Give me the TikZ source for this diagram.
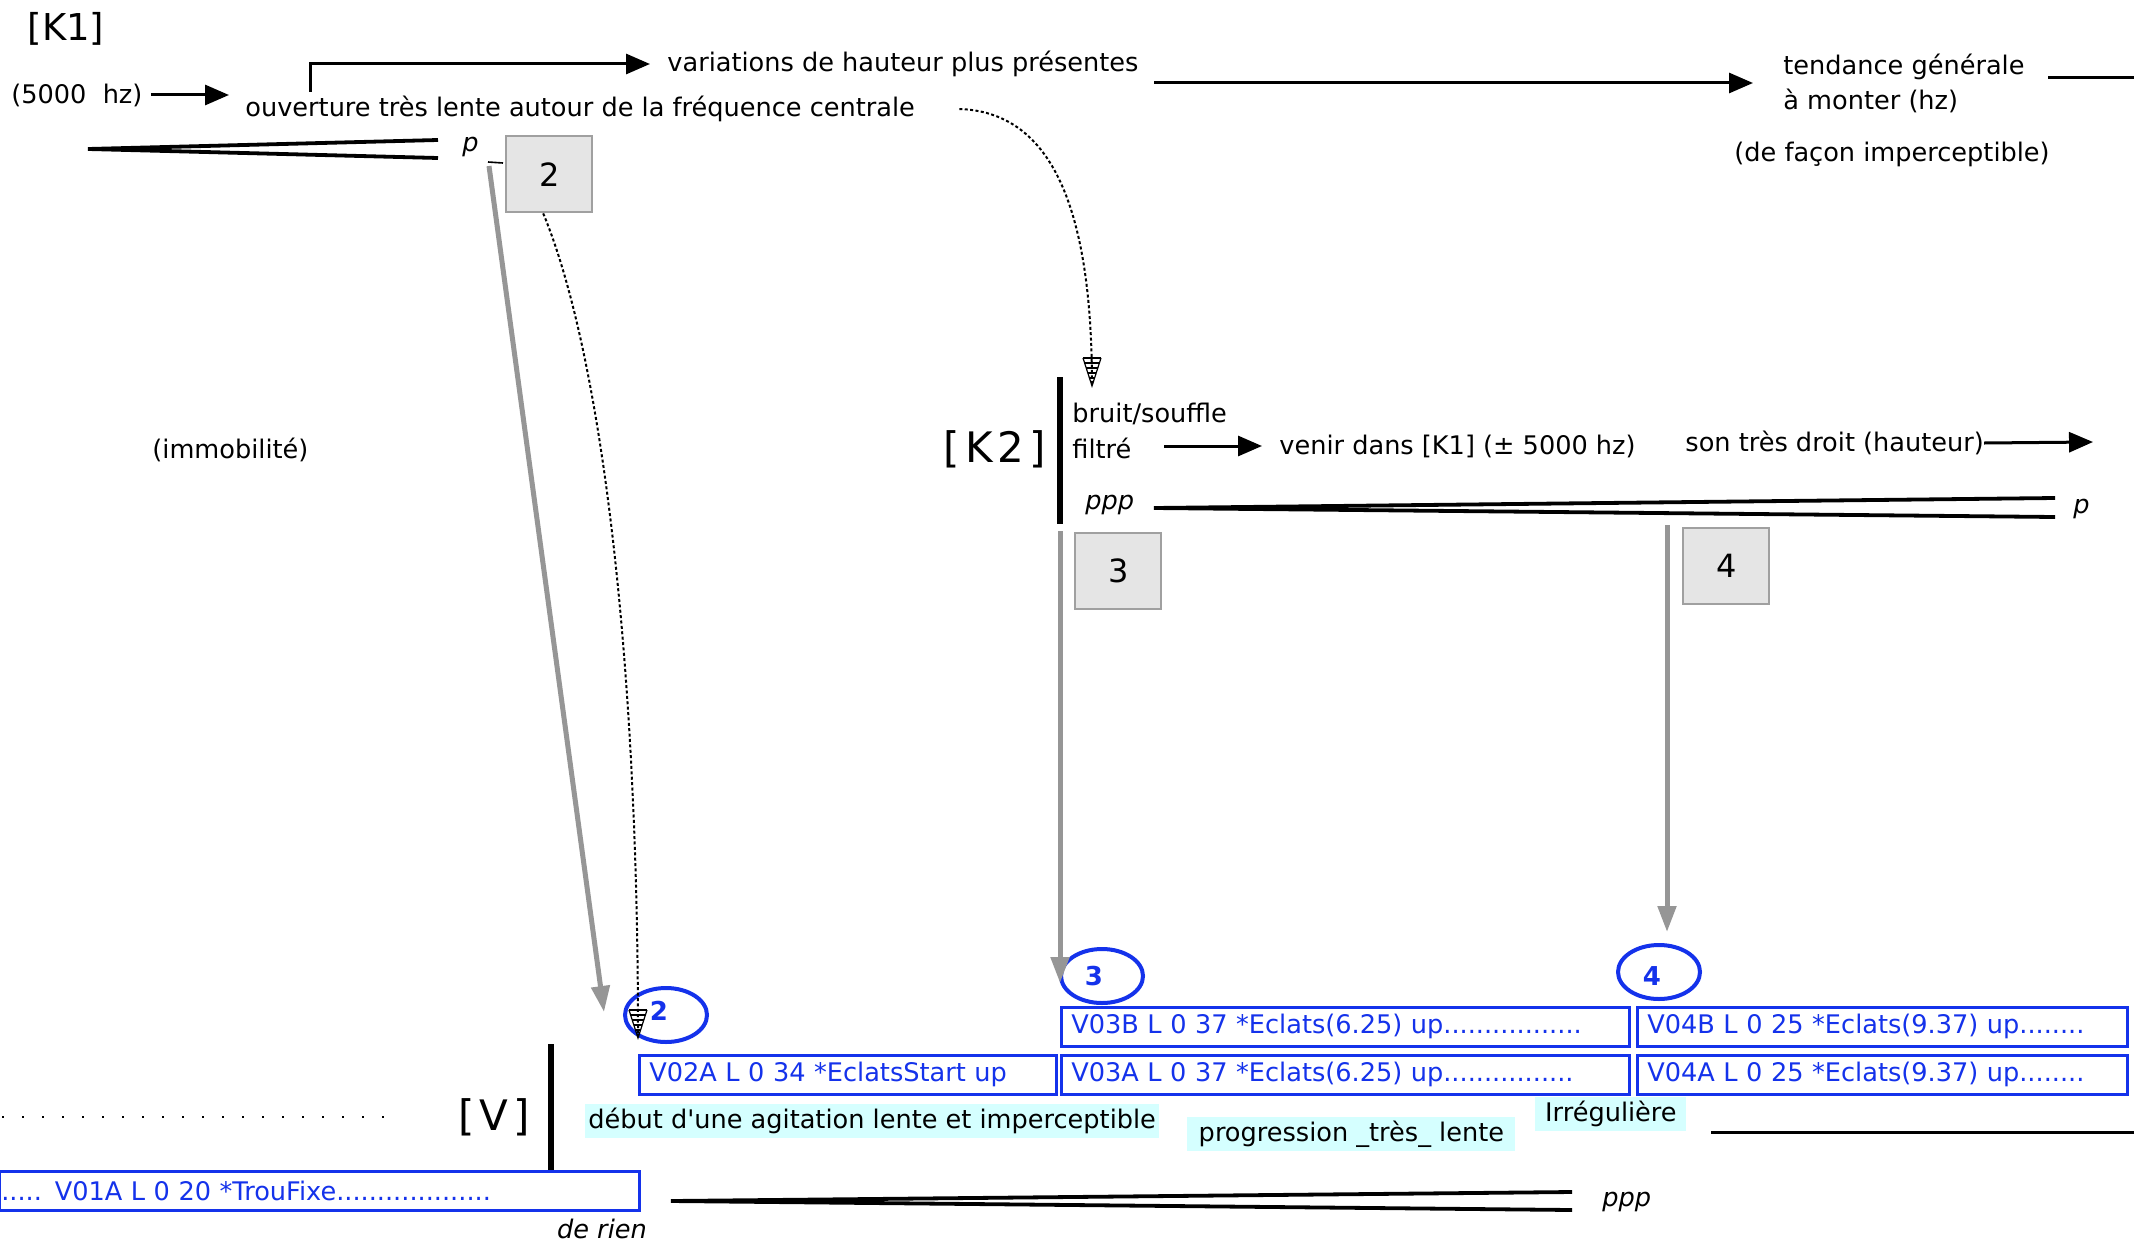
\documentclass[tikz,border=0pt]{standalone}
\usepackage{fontspec}
\setmainfont{DejaVu Sans}
\usetikzlibrary{arrows.meta,shapes.geometric}
\definecolor{vblue}{RGB}{20,50,235}
\definecolor{cyanbg}{RGB}{213,255,255}
\definecolor{boxgrey}{RGB}{229,229,229}
\definecolor{boxedge}{RGB}{160,160,160}
\definecolor{arrgrey}{RGB}{150,150,150}
\tikzset{hatchtip/.pic={
  \draw[line width=0.6pt] (-9,0) -- (0,28) -- (9,0);
  \foreach \yy/\ww in {0/9,5/7.4,10/5.8,15/4.2,20/2.6,25/1} {\draw[line width=1.1pt] (-\ww,\yy) -- (\ww,\yy);}
}}
\begin{document}
\begin{tikzpicture}[x=0.5pt,y=-0.5pt,
  txt/.style={inner sep=0pt, anchor=west, font=\fontsize{12.8}{17.5}\selectfont},
  ital/.style={txt, font=\fontsize{12.8}{15}\selectfont\itshape},
  big/.style={inner sep=0pt, font=\fontsize{21}{24}\selectfont},
  numbox/.style={draw=boxedge, fill=boxgrey, line width=1.2pt, minimum width=43pt, minimum height=38pt, font=\fontsize{16}{18}\selectfont, anchor=north west, inner sep=0pt},
  blk/.style={line width=1.5pt},
  harrow/.style={blk, -{Triangle[length=12pt,width=10pt]}},
  garrow/.style={draw=arrgrey, line width=2.5pt, -{Triangle[length=13pt,width=9pt]}},
  dotcurve/.style={line width=1pt, dash pattern=on 1.5pt off 1.2pt},
  hairpin/.style={line width=1.9pt},
  vbox/.style={draw=vblue, line width=1.3pt, text=vblue, inner xsep=5pt, inner ysep=0pt, minimum height=19.5pt, align=left, anchor=north west, font=\fontsize{12.8}{15}\selectfont},
  vcirc/.style={ellipse, draw=vblue, line width=2pt, minimum width=41pt, minimum height=27pt, inner sep=0pt},
  vnum/.style={inner sep=0pt, text=vblue, font=\fontsize{13}{15}\selectfont\bfseries},
  cnode/.style={txt, fill=cyanbg, inner xsep=1.5pt, inner ysep=2pt}
]
\path[fill=white] (0,0) rectangle (2134,1247);
\useasboundingbox (0,0) rectangle (2134,1247);

% ---------- K1 ----------
\node[inner sep=0pt, font=\fontsize{18.5}{20}\selectfont] (k1) at (66,29) {[K1]};
\node[txt] (hz) at (11,95) {(5000\ \ hz)};
\coordinate (hzend) at (229,95);
\draw[harrow] ([xshift=4pt]hz.east) -- (hzend);
\node[txt] (ouv) at (245,109) {ouverture très lente autour de la fréquence centrale};
\node[txt] (var) at (667,64) {variations de hauteur plus présentes};
\draw[harrow] ([xshift=32.5pt,yshift=2pt]ouv.north west) |- ([xshift=-8.5pt]var.west);
\node[txt, align=left] (tend) at (1783,83) {tendance générale\\à monter (hz)};
\coordinate (v1) at (1154,83);
\draw[harrow] (v1) -- ([xshift=-15pt]tend.west);
\coordinate (t1) at (2048,78);
\coordinate (t2) at (2134,78);
\draw[blk] (t1) -- (t2);
\node[txt] (facon) at (1734,154) {(de façon imperceptible)};

\coordinate (hpa) at (88,149);
\coordinate (hpb) at (438,140);
\coordinate (hpc) at (438,158);
\draw[hairpin] (hpb) -- (hpa) -- (hpc);
\node[ital] (p1) at (462,147) {p};
\node[numbox] (b2) at (505,135) {2};
\coordinate (tk1) at (488,162);
\coordinate (tk2) at (503,163);
\draw[line width=0.8pt] (tk1) -- (tk2);

\node[txt] (immo) at (152,450) {(immobilité)};

% ---------- K2 ----------
\node[big] (k2) at (995,449) {[\kern2.5pt K\kern2.5pt 2\kern2.5pt ]};
\draw[line width=2.7pt] (1060,377) -- (1060,524);
\node[txt] (bruit) at (1072,414) {bruit/souffle};
\node[txt] (filtre) at (1072,448) {filtré};
\node[txt] (venir) at (1279,446) {venir dans [K1] (± 5000 hz)};
\coordinate (fs) at (1164,446);
\draw[harrow] (fs) -- ([xshift=-8.5pt]venir.west);
\node[txt] (son) at (1685,443) {son très droit (hauteur)};
\coordinate (sonend) at (2093,442);
\draw[harrow] (son.east) -- (sonend);
\node[ital] (ppp1) at (1085,505) {ppp};
\coordinate (hqa) at (1154,508);
\coordinate (hqb) at (2055,498);
\coordinate (hqc) at (2055,517);
\draw[hairpin] (hqb) -- (hqa) -- (hqc);
\node[ital] (p2) at (2073,509) {p};

\node[numbox] (b3) at (1074,532) {3};
\node[numbox] (b4) at (1682,527) {4};

% ---------- circles ----------
\node[vcirc] (c2) at (666,1015) {};
\node[vnum] (n2) at (659,1011) {2};
\node[vcirc] (c3) at (1102,976) {};
\node[vnum] (n3) at (1094,976) {3};
\node[vcirc] (c4) at (1659,972) {};
\node[vnum] (n4) at (1652,976) {4};

% ---------- arrows down ----------
\coordinate (g2s) at (489,166);
\coordinate (g2e) at (604,1012);
\draw[garrow] (g2s) -- (g2e);
\coordinate (g3s) at (1060,531);
\coordinate (g3e) at (1060,983);
\draw[garrow] (g3s) -- (g3e);
\coordinate (g4s) at (1667,525);
\coordinate (g4e) at (1667,932);
\draw[garrow] (g4s) -- (g4e);

\coordinate (d2e) at (638,1036);
\draw[dotcurve] ([xshift=-3pt]b2.south) .. controls (600,350) and (638,650) .. (d2e);
\pic at (638,1010) {hatchtip};
\coordinate (d1e) at (1092,386);
\draw[dotcurve] ([xshift=22pt]ouv.east) .. controls (1048,112) and (1092,200) .. (d1e);
\pic at (1092,358) {hatchtip};

% ---------- V boxes ----------
\node[vbox, text width=274pt] (v03b) at (1060,1006) {V03B L 0 37 *Eclats(6.25) up.................};
\node[vbox, text width=235pt] (v04b) at (1636,1006) {V04B L 0 25 *Eclats(9.37) up........};
\node[vbox, text width=198.5pt] (v02a) at (638,1054) {V02A L 0 34 *EclatsStart up};
\node[vbox, text width=274pt] (v03a) at (1060,1054) {V03A L 0 37 *Eclats(6.25) up................};
\node[vbox, text width=235pt] (v04a) at (1636,1054) {V04A L 0 25 *Eclats(9.37) up........};
\node[vbox, inner xsep=1pt, text width=318pt] (v01a) at (-2,1170) {..... V01A L 0 20 *TrouFixe...................};

% ---------- V ----------
\node[big] (vlab) at (494,1117) {[\kern2.5pt V\kern2.5pt ]};
\draw[line width=2.7pt] (551,1044) -- (551,1170);
\draw[line width=1.1pt, dash pattern=on 1pt off 9pt] (2,1117) -- (388,1117);
\node[cnode, minimum width=280.5pt] (debut) at (585,1121) {début d\textquotesingle une agitation lente et imperceptible};
\node[cnode, minimum width=164pt] (prog) at (1187,1134) {progression \_très\_ lente};
\node[cnode, minimum width=75.5pt] (irreg) at (1535,1114) {Irrégulière};
\coordinate (l1) at (1711,1132);
\coordinate (l2) at (2134,1132);
\draw[blk] (l1) -- (l2);
\coordinate (hra) at (671,1201);
\coordinate (hrb) at (1572,1192);
\coordinate (hrc) at (1572,1210);
\draw[hairpin] (hrb) -- (hra) -- (hrc);
\node[ital] (ppp2) at (1602,1202) {ppp};
\node[ital, anchor=center] (derien) at (602,1229) {de rien};
\end{tikzpicture}
\end{document}
